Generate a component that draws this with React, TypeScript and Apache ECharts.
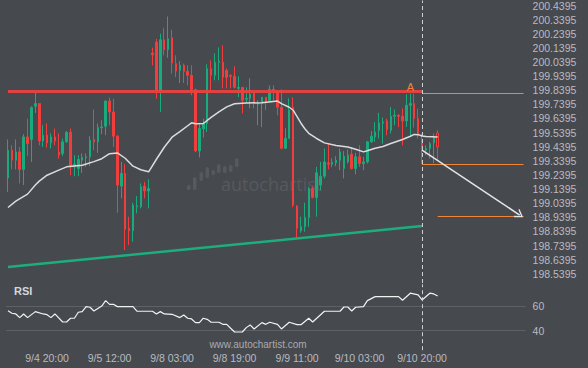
import React, { useEffect, useRef } from "react";
import * as echarts from "echarts";

// [open, close, low, high]
const candles: number[][] = [
  [199.219, 199.415, 199.120, 199.491],
  [199.415, 199.344, 199.279, 199.450],
  [199.344, 199.403, 199.279, 199.491],
  [199.403, 199.279, 199.180, 199.438],
  [199.279, 199.509, 199.168, 199.528],
  [199.509, 199.462, 199.375, 199.639],
  [199.491, 199.717, 199.332, 199.726],
  [199.726, 199.745, 199.679, 199.827],
  [199.745, 199.481, 199.450, 199.749],
  [199.481, 199.521, 199.438, 199.592],
  [199.521, 199.467, 199.434, 199.604],
  [199.467, 199.509, 199.427, 199.533],
  [199.509, 199.481, 199.450, 199.568],
  [199.403, 199.380, 199.356, 199.533],
  [199.392, 199.474, 199.373, 199.498],
  [199.474, 199.542, 199.467, 199.551],
  [199.542, 199.297, 199.238, 199.568],
  [199.297, 199.316, 199.231, 199.380],
  [199.286, 199.349, 199.231, 199.380],
  [199.344, 199.363, 199.255, 199.392],
  [199.363, 199.368, 199.297, 199.392],
  [199.368, 199.486, 199.302, 199.514],
  [199.491, 199.474, 199.415, 199.703],
  [199.474, 199.575, 199.396, 199.604],
  [199.575, 199.580, 199.528, 199.627],
  [199.585, 199.763, 199.521, 199.768],
  [199.763, 199.686, 199.592, 199.787],
  [199.686, 199.514, 199.438, 199.780],
  [199.514, 199.168, 198.972, 199.521],
  [199.161, 199.250, 199.074, 199.332],
  [199.250, 198.855, 198.708, 199.316],
  [198.862, 198.845, 198.744, 198.944],
  [198.845, 199.026, 198.767, 199.043],
  [199.014, 199.021, 198.968, 199.090],
  [199.014, 199.156, 199.003, 199.180],
  [199.161, 199.127, 199.074, 199.191],
  [199.127, 199.144, 199.003, 199.208],
  [200.103, 200.091, 200.016, 200.141],
  [200.180, 199.839, 199.780, 200.204],
  [199.834, 200.197, 199.686, 200.240],
  [200.197, 200.127, 200.086, 200.282],
  [200.127, 200.204, 200.070, 200.362],
  [200.211, 200.032, 199.957, 200.268],
  [200.028, 199.975, 199.933, 200.086],
  [199.980, 200.016, 199.891, 200.046],
  [200.016, 199.973, 199.891, 200.028],
  [199.973, 199.945, 199.874, 200.016],
  [199.945, 199.844, 199.804, 200.016],
  [199.844, 199.410, 199.403, 199.851],
  [199.410, 199.568, 199.363, 199.604],
  [199.566, 199.604, 199.505, 199.639],
  [199.604, 199.992, 199.544, 200.023],
  [199.992, 199.945, 199.839, 200.051],
  [199.945, 200.037, 199.910, 200.100],
  [200.037, 200.044, 199.910, 200.143],
  [200.037, 199.931, 199.853, 200.157],
  [199.980, 199.931, 199.853, 199.994],
  [199.945, 199.938, 199.853, 199.952],
  [199.938, 199.860, 199.853, 200.009],
  [199.853, 199.860, 199.790, 199.938],
  [199.860, 199.768, 199.676, 199.860],
  [199.775, 199.782, 199.747, 199.860],
  [199.782, 199.811, 199.712, 199.924],
  [199.818, 199.747, 199.712, 199.818],
  [199.740, 199.747, 199.592, 199.768],
  [199.747, 199.790, 199.578, 199.790],
  [199.790, 199.754, 199.698, 199.790],
  [199.768, 199.846, 199.754, 199.874],
  [199.846, 199.832, 199.768, 199.874],
  [199.832, 199.719, 199.662, 199.839],
  [199.719, 199.429, 199.422, 199.846],
  [199.429, 199.500, 199.422, 199.570],
  [199.500, 199.698, 199.493, 199.782],
  [199.719, 199.026, 199.012, 199.790],
  [199.019, 198.862, 198.791, 199.026],
  [198.845, 198.873, 198.831, 198.944],
  [198.873, 198.939, 198.838, 199.043],
  [198.939, 199.144, 198.873, 199.156],
  [199.144, 199.081, 199.074, 199.156],
  [199.081, 199.255, 198.944, 199.297],
  [199.168, 199.231, 199.132, 199.332],
  [199.231, 199.332, 199.215, 199.427],
  [199.325, 199.316, 199.279, 199.462],
  [199.316, 199.330, 199.295, 199.358],
  [199.325, 199.344, 199.302, 199.373],
  [199.344, 199.403, 199.274, 199.427],
  [199.286, 199.373, 199.215, 199.410],
  [199.332, 199.380, 199.321, 199.420],
  [199.387, 199.286, 199.279, 199.438],
  [199.286, 199.368, 199.245, 199.396],
  [199.368, 199.321, 199.297, 199.450],
  [199.321, 199.332, 199.274, 199.368],
  [199.332, 199.474, 199.321, 199.481],
  [199.474, 199.514, 199.467, 199.551],
  [199.509, 199.544, 199.474, 199.615],
  [199.556, 199.608, 199.498, 199.679],
  [199.608, 199.615, 199.462, 199.646],
  [199.622, 199.561, 199.521, 199.639],
  [199.556, 199.655, 199.533, 199.721],
  [199.655, 199.662, 199.592, 199.703],
  [199.662, 199.655, 199.580, 199.669],
  [199.655, 199.622, 199.450, 199.710],
  [199.622, 199.733, 199.580, 199.811],
  [199.733, 199.745, 199.521, 199.816],
  [199.745, 199.639, 199.575, 199.816],
  [199.639, 199.521, 199.498, 199.710],
  [199.491, 199.420, 199.316, 199.533],
  [199.415, 199.427, 199.380, 199.450],
  [199.427, 199.462, 199.356, 199.474],
  [199.467, 199.509, 199.321, 199.533],
  [199.537, 199.438, 199.344, 199.556],
];

// moving average read at candle indices: [index, value]
const maPoints: number[][] = [
  [0, 199.009], [2, 199.055], [5, 199.104], [7, 199.168], [8, 199.196], [10, 199.238],
  [13, 199.274], [15, 199.297], [19, 199.309], [22, 199.334], [24, 199.355], [26, 199.390],
  [28, 199.396], [30, 199.358], [32, 199.302], [34, 199.277], [36, 199.262], [38, 199.351],
  [40, 199.436], [42, 199.507], [44, 199.546], [46, 199.588], [47, 199.609], [48, 199.602],
  [50, 199.604], [52, 199.648], [54, 199.687], [56, 199.722], [58, 199.744], [61, 199.749],
  [65, 199.751], [69, 199.763], [70, 199.745], [72, 199.719], [73, 199.698], [74, 199.652],
  [75, 199.606], [76, 199.567], [77, 199.535], [79, 199.498], [81, 199.467], [84, 199.448],
  [87, 199.438], [89, 199.422], [91, 199.403], [92, 199.411], [94, 199.429], [96, 199.441],
  [98, 199.462], [101, 199.491], [103, 199.514], [104, 199.527], [105, 199.525], [106, 199.515],
  [107, 199.512], [110, 199.509],
];

// RSI read at candle indices: [index, value]
const rsiPoints: number[][] = [
  [0, 56.4], [1, 54.3], [2, 53.7], [3, 50.7], [4, 53.7], [5, 50.7], [7, 55.6], [9, 53.7],
  [10, 53.1], [11, 50.7], [12, 53.7], [14, 47.1], [15, 47.1], [16, 50.2], [17, 50.2],
  [18, 55.1], [19, 55.6], [20, 59.7], [21, 59.2], [22, 56.1], [24, 60.2], [25, 64.6],
  [26, 61.6], [27, 61.6], [28, 59.7], [32, 59.7], [33, 56.1], [37, 55.9], [38, 53.7],
  [39, 55.6], [40, 53.7], [42, 53.4], [44, 50.7], [45, 52.9], [46, 50.2], [47, 49.6],
  [48, 46.6], [49, 46.6], [50, 50.2], [51, 49.3], [52, 46.9], [54, 46.9], [55, 45.2],
  [56, 45.2], [57, 42.0], [58, 38.9], [60, 38.9], [61, 42.5], [62, 44.7], [63, 41.4],
  [65, 46.6], [66, 45.2], [67, 46.9], [69, 45.2], [70, 41.4], [72, 46.9], [74, 44.9],
  [75, 44.9], [77, 50.2], [78, 47.1], [81, 55.9], [85, 55.9], [86, 59.4], [87, 59.4],
  [88, 56.1], [89, 59.2], [91, 59.7], [92, 64.6], [94, 67.9], [100, 67.9], [101, 64.9],
  [103, 70.7], [105, 69.3], [106, 65.2], [108, 70.7], [109, 70.1], [110, 68.4],
];

const xTickIndex = [10, 26, 42, 58, 74, 90, 106];
const xTickLabels = ["9/4 20:00", "9/5 12:00", "9/8 03:00", "9/8 19:00", "9/9 11:00", "9/10 03:00", "9/10 20:00"];
const yTickLabels = [
  198.5395, 198.6395, 198.7395, 198.8395, 198.9395, 199.0395, 199.1395, 199.2395, 199.3395, 199.4395,
  199.5395, 199.6395, 199.7395, 199.8395, 199.9395, 200.0395, 200.1395, 200.2395, 200.3395, 200.4395,
];
const rsiTicks = [40, 60];
const categoryCount = 133;

// pattern / forecast levels
const resistanceLevel = 199.832;
const supportFrom = 198.588;
const supportTo = 198.878;
const patternStart = 0;
const patternEnd = 106;
const levelTop = 199.816;
const levelMid = 199.314;
const levelLow = 198.949;
const lowLevelStart = 110;
const rightIndex = 132;
const forecastFrom = 199.415;
const forecastTo = 198.956;
const forecastEndIndex = 131;
const pointA = 199.860;
const pointAIndex = 103;

const BG = "#46494e";
const GREEN = "#19ab7b";
const RED = "#f23d3d";
const ORANGE = "#f28436";
const TXT = "#b8bbc0";
const FONT = "Liberation Sans, Arial, sans-serif";

export default function App() {
  const ref = useRef<HTMLDivElement>(null);
  useEffect(() => {
    if (!ref.current) return;
    const chart = echarts.init(ref.current, undefined, { renderer: "svg" });
    const categories = Array.from({ length: categoryCount }, (_, i) => String(i));
    const candleData = candles.map((c, i) =>
      i === candles.length - 1
        ? { value: c, itemStyle: { color0: BG, borderColor0: RED } }
        : c
    );
    const bars = [
      [187, 185, 5], [193, 177, 13], [199.5, 172, 9], [205.5, 167, 11], [211.5, 170, 5],
      [217, 164, 9], [223, 166, 7], [229, 165, 7], [235, 158, 9],
    ];
    const option: any = {
      animation: false,
      backgroundColor: BG,
      textStyle: { fontFamily: FONT },
      grid: [
        { left: 6.05, right: 62.45, top: 0, height: 283 },
        { left: 6.05, right: 62.45, top: 284.3, height: 65.9 },
      ],
      xAxis: [
        { type: "category", gridIndex: 0, data: categories, boundaryGap: true, show: false },
        {
          type: "category", gridIndex: 1, data: categories, boundaryGap: true,
          axisLine: { show: false }, axisTick: { show: false }, splitLine: { show: false },
          axisLabel: {
            interval: (i: number) => xTickIndex.includes(i),
            formatter: (_v: string, i: number) => {
              const k = xTickIndex.indexOf(i);
              return k >= 0 ? xTickLabels[k] : "";
            },
            color: TXT, fontSize: 10.5, margin: 2, fontFamily: FONT,
          },
        },
      ],
      yAxis: [
        {
          type: "value", gridIndex: 0, position: "right", min: 198.4748, max: 200.4748,
          axisLine: { show: false }, axisTick: { show: false, customValues: yTickLabels },
          splitLine: { show: false },
          axisLabel: {
            customValues: yTickLabels, formatter: (v: number) => v.toFixed(4),
            color: TXT, fontSize: 10.5, margin: 7, fontFamily: FONT,
          },
        },
        {
          type: "value", gridIndex: 1, position: "right", min: 24, max: 78,
          axisLine: { show: false }, axisTick: { show: false, customValues: rsiTicks },
          splitLine: { show: true, lineStyle: { color: "#5e6166", width: 1 } },
          axisLabel: { customValues: rsiTicks, color: TXT, fontSize: 10.5, margin: 7, fontFamily: FONT },
        },
      ],
      graphic: [
        ...bars.map((b) => ({
          type: "rect", z: -10, silent: true,
          shape: { x: b[0], y: b[1], width: 3.5, height: b[2], r: 1.5 },
          style: { fill: "#56595e" },
        })),
        {
          type: "text", z: -10, silent: true, x: 221, y: 184,
          style: { text: "autochartist", fill: "#56595e", font: "18px 'Open Sans'", textVerticalAlign: "middle" },
        },
        {
          type: "text", x: 14, y: 291,
          style: { text: "RSI", fill: "#d4d7dc", font: "bold 11px " + FONT, textVerticalAlign: "middle" },
        },
        {
          type: "text", x: 258, y: 344,
          style: { text: "www.autochartist.com", fill: "#a8abb0", font: "10px " + FONT, textAlign: "center", textVerticalAlign: "middle" },
        },
      ],
      series: [
        {
          type: "candlestick", xAxisIndex: 0, yAxisIndex: 0, data: candleData, barWidth: 2,
          itemStyle: { color: GREEN, color0: RED, borderColor: GREEN, borderColor0: RED, borderWidth: 1 },
          markLine: {
            silent: true, symbol: "none", label: { show: false }, animation: false,
            data: [
              [
                { coord: [patternStart, resistanceLevel], lineStyle: { color: "#e8423f", width: 3, type: "solid", opacity: 0.95 } },
                { coord: [patternEnd, resistanceLevel] },
              ],
              [
                { coord: [patternStart, supportFrom], lineStyle: { color: "#1dae7d", width: 2.5, type: "solid" } },
                { coord: [patternEnd, supportTo] },
              ],
              [
                { coord: [patternEnd, levelTop], lineStyle: { color: ORANGE, width: 1, type: "solid" } },
                { coord: [rightIndex, levelTop] },
              ],
              [
                { coord: [patternEnd, levelMid], lineStyle: { color: ORANGE, width: 1, type: "solid" } },
                { coord: [rightIndex, levelMid] },
              ],
              [
                { coord: [lowLevelStart, levelLow], lineStyle: { color: ORANGE, width: 1, type: "solid" } },
                { coord: [rightIndex, levelLow] },
              ],
              [
                { coord: [patternEnd, forecastFrom], symbol: "none", lineStyle: { color: "#e6e6e6", width: 1.5, type: "solid" } },
                { coord: [forecastEndIndex, forecastTo], symbol: "path://M0,10 L5,0 L10,10 L8.6,10.6 L5,3.2 L1.4,10.6 Z", symbolSize: [10, 8] },
              ],
              { xAxis: patternEnd, lineStyle: { color: "#cfcfcf", width: 1, type: [4, 3] } },
            ],
          },
          markPoint: {
            silent: true,
            data: [
              {
                coord: [pointAIndex, pointA], symbol: "circle", symbolSize: 1,
                itemStyle: { color: "rgba(0,0,0,0)" },
                label: { show: true, position: "inside", formatter: "A", color: ORANGE, fontSize: 11, fontFamily: FONT },
              },
            ],
          },
        },
        {
          type: "line", xAxisIndex: 0, yAxisIndex: 0, data: maPoints, symbol: "none", z: 4,
          lineStyle: { color: "#dcdcdc", width: 1.5 },
        },
        {
          type: "line", xAxisIndex: 1, yAxisIndex: 1, data: rsiPoints, symbol: "none",
          lineStyle: { color: "#f2f2f2", width: 1.2 },
          markLine: {
            silent: true, symbol: "none", label: { show: false },
            data: [{ xAxis: patternEnd, lineStyle: { color: "#cfcfcf", width: 1, type: [4, 3] } }],
          },
        },
      ],
    };
    chart.setOption(option);
    return () => chart.dispose();
  }, []);
  return (
    <div
      ref={ref}
      style={{ position: "absolute", left: 0, top: 0, width: 588, height: 368, background: BG }}
    />
  );
}
